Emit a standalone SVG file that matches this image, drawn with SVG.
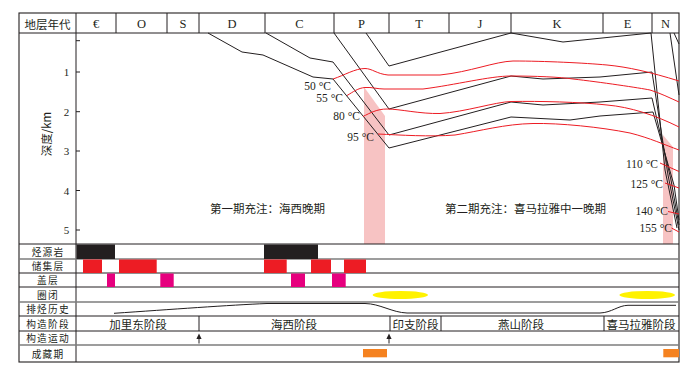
<svg xmlns="http://www.w3.org/2000/svg" width="696" height="374" viewBox="0 0 696 374">
<style>
text{font-family:"Liberation Serif","Noto Sans CJK SC",serif;fill:#231f20;}
.cjk{font-family:"Noto Sans CJK SC","Liberation Serif",sans-serif;font-size:11.5px;text-anchor:middle;dominant-baseline:central;}
.row{font-family:"Noto Sans CJK SC","Liberation Serif",sans-serif;font-size:9.7px;letter-spacing:1.2px;text-anchor:middle;dominant-baseline:central;}
.per{font-size:12.5px;text-anchor:middle;dominant-baseline:central;}
.num{font-size:11px;text-anchor:middle;dominant-baseline:central;}
.tmp{font-size:11.5px;text-anchor:end;dominant-baseline:central;}
.frame{fill:none;stroke:#231f20;stroke-width:1.1;}
.grid{stroke:#231f20;stroke-width:1;}
.gray{stroke:#7d7d7d;stroke-width:1.4;}
.hz{fill:none;stroke:#231f20;stroke-width:1;}
.iso{fill:none;stroke:#ed1c24;stroke-width:1;}
.pink{fill:#f7c3c3;}
.src{fill:#231f20;}
.res{fill:#ed1c24;}
.cap{fill:#e6007e;}
.trap{fill:#fff200;}
.acc{fill:#f58220;}
.head{fill:#231f20;}
</style>
<rect width="696" height="374" fill="#fff"/>

<g id="charge-zones">
<polygon class="pink" points="364,87 385,116 385,244 364,244"/>
<polygon class="pink" points="663,135 673,147 673,244 663,244"/>
</g>

<g id="frame">
<rect class="frame" x="19" y="13" width="660" height="349"/>
<line class="grid" x1="76" y1="13" x2="76" y2="362"/>
<line class="grid" x1="19" y1="33" x2="679" y2="33"/>
<line class="grid" x1="19" y1="244" x2="679" y2="244"/>
<line class="gray" x1="19" y1="259" x2="679" y2="259"/>
<line class="grid" x1="19" y1="273" x2="679" y2="273"/>
<line class="grid" x1="19" y1="287" x2="679" y2="287"/>
<line class="gray" x1="19" y1="302" x2="679" y2="302"/>
<line class="grid" x1="19" y1="316" x2="679" y2="316"/>
<line class="grid" x1="19" y1="331" x2="679" y2="331"/>
<line class="gray" x1="19" y1="345" x2="679" y2="345"/>
<line class="grid" x1="116" y1="13" x2="116" y2="33"/>
<line class="grid" x1="167" y1="13" x2="167" y2="33"/>
<line class="grid" x1="199" y1="13" x2="199" y2="33"/>
<line class="grid" x1="265" y1="13" x2="265" y2="33"/>
<line class="grid" x1="334" y1="13" x2="334" y2="33"/>
<line class="grid" x1="389" y1="13" x2="389" y2="33"/>
<line class="grid" x1="449" y1="13" x2="449" y2="33"/>
<line class="grid" x1="511" y1="13" x2="511" y2="33"/>
<line class="grid" x1="603" y1="13" x2="603" y2="33"/>
<line class="grid" x1="652" y1="13" x2="652" y2="33"/>
</g>

<g id="header">
<text class="cjk" x="47.5" y="23.5">地层年代</text>
<text class="per" x="96" y="23.5">€</text>
<text class="per" x="141.5" y="23.5">O</text>
<text class="per" x="183" y="23.5">S</text>
<text class="per" x="232" y="23.5">D</text>
<text class="per" x="299.5" y="23.5">C</text>
<text class="per" x="361.5" y="23.5">P</text>
<text class="per" x="419" y="23.5">T</text>
<text class="per" x="480" y="23.5">J</text>
<text class="per" x="557" y="23.5">K</text>
<text class="per" x="627.5" y="23.5">E</text>
<text class="per" x="665.5" y="23.5">N</text>
</g>

<g id="depth-axis">
<line class="grid" x1="76" y1="40.7" x2="80" y2="40.7"/>
<line class="grid" x1="76" y1="72" x2="80" y2="72"/>
<line class="grid" x1="76" y1="111.7" x2="80" y2="111.7"/>
<line class="grid" x1="76" y1="151" x2="80" y2="151"/>
<line class="grid" x1="76" y1="190.5" x2="80" y2="190.5"/>
<line class="grid" x1="76" y1="230" x2="80" y2="230"/>
<text class="num" x="66.5" y="72">1</text>
<text class="num" x="66.5" y="111.7">2</text>
<text class="num" x="66.5" y="151">3</text>
<text class="num" x="66.5" y="190.5">4</text>
<text class="num" x="66.5" y="230">5</text>
<text class="cjk" transform="translate(46,134) rotate(-90)" x="0" y="0">深度/km</text>
</g>

<g id="connectors">
<path class="hz" d="M366,33 L389,66 L511,33 L563,42 L651,33 L665,170 L677,228"/>
<path class="hz" d="M334,33 L389,109 L511,76 L543,79 L600,77 L652,72 L668,175 L679,230"/>
<path class="hz" d="M266,33 L310,58 L333,62 L389,135 L511,102 L543,105 L600,102 L652,98 L671,180 L679,225"/>
<path class="hz" d="M208,33 L242,52 L263,55 L313,77 L333,79 L389,148 L511,117 L570,120 L600,116 L653,112 L674,185 L679,220"/>
<path class="hz" d="M670,33 L679,95"/>
<path class="hz" d="M674,33 L679,44"/>

<path class="iso" d="M333,79 C345,75 355,68.5 365,68.5 C372,68.5 377,74 388,75 L440,75 C470,72 495,61.5 513,61 C545,61 585,63 607,65 C628,67 650,72 679,81"/>
<path class="iso" d="M347,95.5 C353,92 358,88 365,87.5 C372,87 377,89 384,89 L423,89 C455,85 490,76 511,76 C535,76 560,77 573,79 C600,82 640,88 650,90 C660,93 670,98 679,102"/>
<path class="iso" d="M363,116.5 C370,113 377,109 387,109 C400,109 420,114 440,113.5 C465,112 495,102 511,101.5 C540,101 580,102 607,105 C630,107 655,115 679,127"/>
<path class="iso" d="M378,134 C400,135 430,137 455,135 C480,131 505,124 533,123.5 C560,123 600,127 630,133 C650,138 665,145 679,150"/>
<path class="iso" d="M660,163 L679,171.5"/>
<path class="iso" d="M665,183 L679,188"/>
<path class="iso" d="M668,211.5 L679,214"/>
<path class="iso" d="M671.5,228 L679,232"/>

<path class="hz" d="M114,313.3 C170,309.5 230,305 267,303.5 L365,303.5 C380,303.7 392,312.5 407,313 L600,313 C612,312.5 618,305.5 628,305.3 L676,305.3"/>
<line class="grid" x1="199" y1="343.5" x2="199" y2="338"/>
<polygon class="head" points="199,333.5 201.6,339 196.4,339"/>
<line class="grid" x1="389" y1="343.5" x2="389" y2="338"/>
<polygon class="head" points="389,333.5 391.6,339 386.4,339"/>
</g>

<g id="temperatures">
<text class="tmp" x="331" y="86">50 °C</text>
<text class="tmp" x="343" y="98.3">55 °C</text>
<text class="tmp" x="360" y="116">80 °C</text>
<text class="tmp" x="374" y="136.7">95 °C</text>
<text class="tmp" x="658" y="164">110 °C</text>
<text class="tmp" x="663" y="184">125 °C</text>
<text class="tmp" x="668" y="211">140 °C</text>
<text class="tmp" x="672" y="228">155 °C</text>
</g>

<g id="charge-labels">
<text class="cjk" x="267.5" y="207.5">第一期充注：海西晚期</text>
<text class="cjk" x="525.5" y="207.5">第二期充注：喜马拉雅中一晚期</text>
</g>

<g id="row-labels">
<text class="row" x="48" y="252">烃源岩</text>
<text class="row" x="48" y="266.2">储集层</text>
<text class="row" x="48" y="280.4">盖层</text>
<text class="row" x="48" y="294.6">圈闭</text>
<text class="row" x="48" y="309.2">排烃历史</text>
<text class="row" x="48" y="323.6">构造阶段</text>
<text class="row" x="48" y="338">构造运动</text>
<text class="row" x="48" y="353.6">成藏期</text>
</g>

<g id="source-rock">
<rect class="src" x="76.5" y="244.5" width="38.5" height="14.5"/>
<rect class="src" x="264" y="244.5" width="54" height="14.5"/>
</g>
<g id="reservoir">
<rect class="res" x="83" y="259.5" width="19" height="13.5"/>
<rect class="res" x="119" y="259.5" width="37.7" height="13.5"/>
<rect class="res" x="264" y="259.5" width="22.7" height="13.5"/>
<rect class="res" x="311" y="259.5" width="20" height="13.5"/>
<rect class="res" x="344" y="259.5" width="22" height="13.5"/>
</g>
<g id="caprock">
<rect class="cap" x="107" y="273.5" width="8" height="13.5"/>
<rect class="cap" x="160.3" y="273.5" width="13.4" height="13.5"/>
<rect class="cap" x="291" y="273.5" width="14" height="13.5"/>
<rect class="cap" x="332" y="273.5" width="13.7" height="13.5"/>
</g>
<g id="traps">
<ellipse class="trap" cx="400.3" cy="295" rx="27.7" ry="4"/>
<ellipse class="trap" cx="647.2" cy="295" rx="27.8" ry="4"/>
</g>

<g id="tectonic-stages">
<line class="grid" x1="199" y1="316" x2="199" y2="331"/>
<line class="grid" x1="390" y1="316" x2="390" y2="331"/>
<line class="grid" x1="441" y1="316" x2="441" y2="331"/>
<line class="grid" x1="604" y1="316" x2="604" y2="331"/>
<text class="cjk" x="138" y="324">加里东阶段</text>
<text class="cjk" x="294" y="324">海西阶段</text>
<text class="cjk" x="415.5" y="324">印支阶段</text>
<text class="cjk" x="521" y="324">燕山阶段</text>
<text class="cjk" x="641" y="324">喜马拉雅阶段</text>
</g>

<g id="accumulation">
<rect class="acc" x="363" y="349" width="24" height="8.3"/>
<rect class="acc" x="663.3" y="349" width="15.7" height="8.3"/>
</g>
</svg>
